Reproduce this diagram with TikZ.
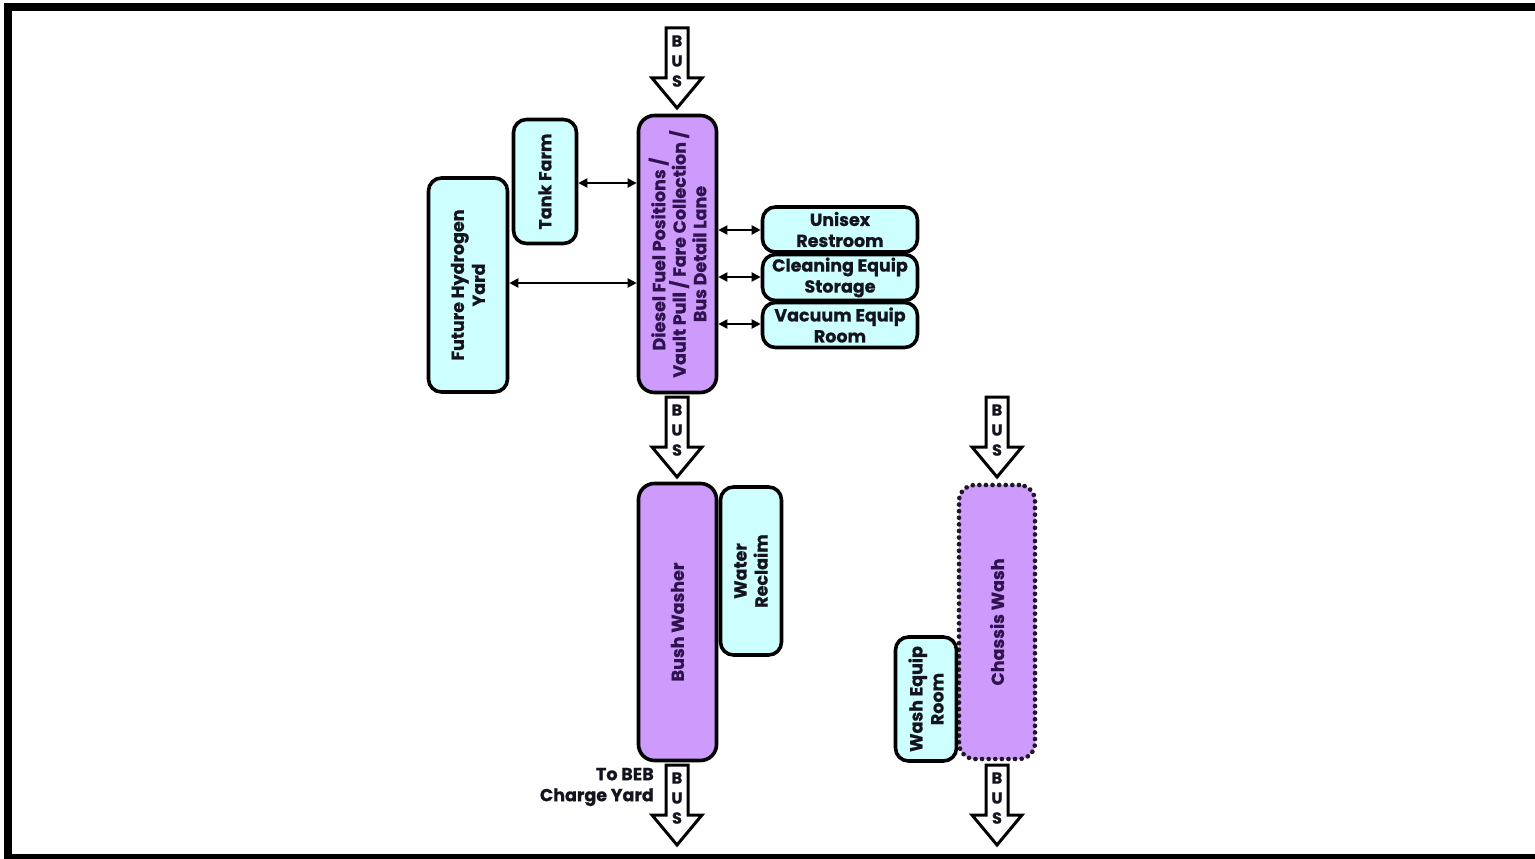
\documentclass[tikz,border=0pt]{standalone}
\usepackage{fontspec}
\setmainfont{Poppins}[BoldFeatures={FakeBold=0.8}]
\usetikzlibrary{arrows.meta}
\definecolor{lav}{RGB}{204,155,252}
\definecolor{aqua}{RGB}{206,255,255}
\definecolor{ptext}{RGB}{48,18,78}
\definecolor{ctext}{RGB}{20,20,30}
\tikzset{
  cbox/.style={draw=black, line width=3.6pt, rounded corners=13pt, fill=aqua, inner sep=0pt},
  pbox/.style={draw=black, line width=3.6pt, rounded corners=16pt, fill=lav, inner sep=0pt},
  dbox/.style={pbox, draw=black!85!lav, dash pattern=on 0.1pt off 6.5pt, line cap=round, line width=4.6pt},
  lbl/.style={font=\fontsize{17.5}{21}\selectfont\bfseries, align=center, text=ctext, inner sep=0pt},
  plbl/.style={lbl, text=ptext},
  link/.style={{Triangle[length=9pt,width=9pt]}-{Triangle[length=9pt,width=9pt]}, line width=2pt},
  busbody/.style={draw=black, line width=3pt, fill=white, line join=miter},
  busletter/.style={font=\fontsize{16}{16}\selectfont\bfseries, text=ctext, inner sep=0pt}
}
\newcommand\busarr[3]{% name, center x, top y
  \path[busbody] (#2-11,#3) -- (#2+11,#3) -- (#2+11,#3+50) -- (#2+25,#3+50)
     -- (#2,#3+80) -- (#2-25,#3+50) -- (#2-11,#3+50) -- cycle;
  \node[busletter] (#1b) at (#2,#3+13) {B};
  \node[busletter] (#1u) at (#2,#3+33) {U};
  \node[busletter] (#1s) at (#2,#3+53) {S};
}
\begin{document}
\begin{tikzpicture}[x=1pt,y=-1pt]
\useasboundingbox (0,0) rectangle (1535,859);
\begin{scope}
\clip (0,0) rectangle (1535,859);
\draw[line width=8pt] (8,7.5) rectangle (1560,858);
\end{scope}

% main diesel lane
\node[pbox, minimum width=78pt, minimum height=277pt] (diesel) at (677.5,254) {};
\node[plbl, rotate=90, font=\fontsize{17.5}{20.5}\selectfont\bfseries] (dieselt) at (diesel.center) {Diesel Fuel Positions /\\Vault Pull / Fare Collection /\\Bus Detail Lane};

% tank farm
\node[cbox, minimum width=63pt, minimum height=124pt] (tank) at (545,181.5) {};
\node[lbl, rotate=90] (tankt) at (tank.center) {Tank Farm};

% hydrogen
\node[cbox, minimum width=79pt, minimum height=214pt] (hydro) at (468,285) {};
\node[lbl, rotate=90] (hydrot) at (hydro.center) {Future Hydrogen\\Yard};

% right rooms
\node[cbox, minimum width=155pt, minimum height=45pt] (unisex) at (840,229.5) {};
\node[lbl] (unisext) at (unisex.center) {Unisex\\Restroom};
\node[cbox, minimum width=155pt, minimum height=46pt] (clean) at (840,277.5) {};
\node[lbl] (cleant) at (clean.center) {Cleaning Equip\\Storage};
\node[cbox, minimum width=155pt, minimum height=45pt] (vac) at (840,325) {};
\node[lbl] (vact) at (vac.center) {Vacuum Equip\\Room};

% links
\draw[link] (tank.east |- 0,183) -- (diesel.west |- 0,183);
\draw[link] (hydro.east |- 0,283) -- (diesel.west |- 0,283);
\draw[link] (diesel.east |- 0,230) -- (unisex.west |- 0,230);
\draw[link] (diesel.east |- 0,277) -- (clean.west |- 0,277);
\draw[link] (diesel.east |- 0,324) -- (vac.west |- 0,324);

% bus arrows
\busarr{ba}{677}{28}
\busarr{bb}{677}{397}
\busarr{bc}{677}{765}
\busarr{bd}{997}{397}
\busarr{be}{997}{765}

% bush washer
\node[pbox, minimum width=78pt, minimum height=277pt] (bush) at (677.5,622) {};
\node[plbl, rotate=90] (busht) at (bush.center) {Bush Washer};
\node[cbox, minimum width=61pt, minimum height=168pt] (water) at (751,571) {};
\node[lbl, rotate=90] (watert) at (water.center) {Water\\Reclaim};

% chassis wash
\node[dbox, minimum width=76pt, minimum height=274pt] (chassis) at (997,622) {};
\node[plbl, rotate=90] (chassist) at (chassis.center) {Chassis Wash};
\node[cbox, minimum width=61pt, minimum height=124pt] (washeq) at (926,699) {};
\node[lbl, rotate=90] (washeqt) at (washeq.center) {Wash Equip\\Room};

% label
\node[lbl, align=right, anchor=east] (beb) at (654,787) {To BEB\\Charge Yard};
\end{tikzpicture}
\end{document}
